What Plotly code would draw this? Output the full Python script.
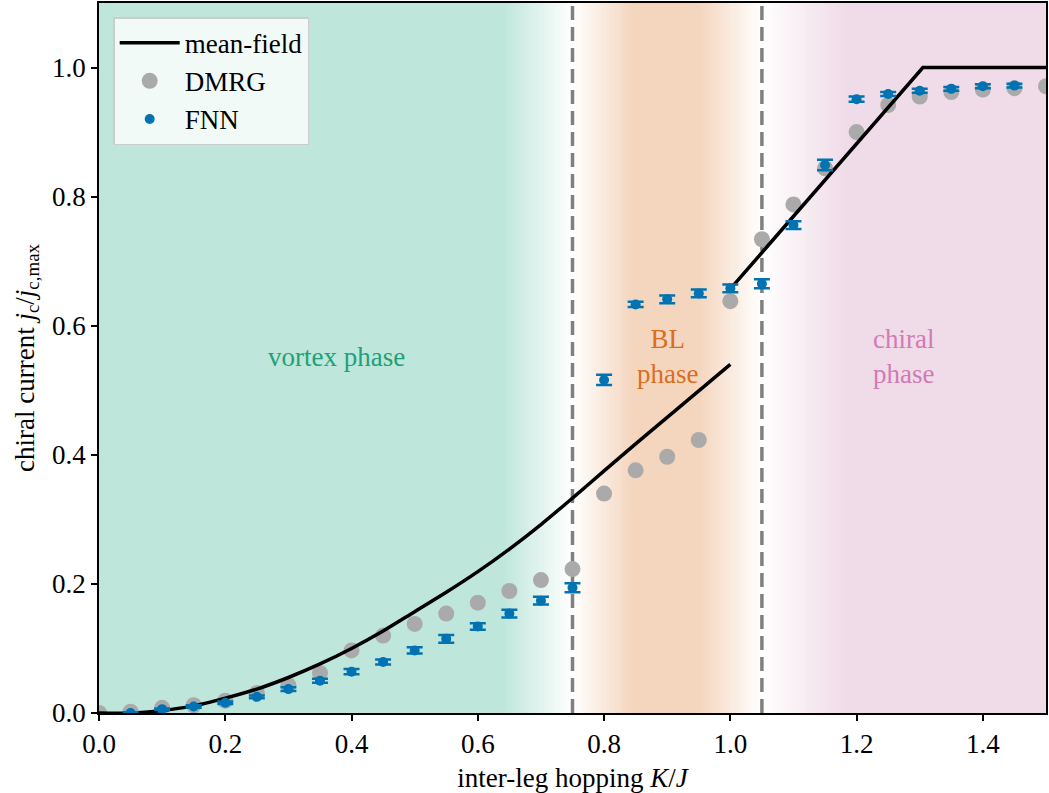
import numpy as np
import plotly.graph_objects as go

# ---------------- data ----------------
x_dmrg = [0.00, 0.05, 0.10, 0.15, 0.20, 0.25, 0.30, 0.35, 0.40, 0.45, 0.50,
          0.55, 0.60, 0.65, 0.70, 0.75, 0.80, 0.85, 0.90, 0.95, 1.00,
          1.05, 1.10, 1.15, 1.20, 1.25, 1.30, 1.35, 1.40, 1.45, 1.50]
y_dmrg = [0.000, 0.002, 0.008, 0.012, 0.019, 0.031, 0.043, 0.062, 0.097, 0.120, 0.138,
          0.154, 0.171, 0.189, 0.206, 0.223, 0.340, 0.376, 0.397, 0.423, 0.638,
          0.734, 0.788, 0.844, 0.900, 0.942, 0.955, 0.962, 0.966, 0.968, 0.971]

x_fnn = [0.05, 0.10, 0.15, 0.20, 0.25, 0.30, 0.35, 0.40, 0.45, 0.50,
         0.55, 0.60, 0.65, 0.70, 0.75, 0.80, 0.85, 0.90, 0.95, 1.00,
         1.05, 1.10, 1.15, 1.20, 1.25, 1.30, 1.35, 1.40, 1.45]
y_fnn = [0.000, 0.006, 0.010, 0.016, 0.025, 0.037, 0.050, 0.064, 0.079, 0.097,
         0.115, 0.134, 0.154, 0.174, 0.194, 0.516, 0.633, 0.641, 0.650, 0.658,
         0.665, 0.756, 0.849, 0.951, 0.959, 0.964, 0.967, 0.971, 0.972]
err_fnn = [0.001, 0.001, 0.002, 0.002, 0.002, 0.003, 0.003, 0.004, 0.004, 0.005,
           0.006, 0.005, 0.006, 0.006, 0.007, 0.008, 0.004, 0.006, 0.006, 0.006,
           0.007, 0.006, 0.008, 0.004, 0.003, 0.003, 0.003, 0.003, 0.003]

x_mf_low = [0.00, 0.05, 0.10, 0.15, 0.20, 0.25, 0.30, 0.35, 0.40, 0.45, 0.50,
            0.55, 0.60, 0.65, 0.70, 0.75, 0.80, 0.85, 0.90, 0.95, 1.00]
y_mf_low = [0.000, 0.000, 0.004, 0.011, 0.023, 0.037, 0.055, 0.076, 0.100, 0.127, 0.157,
            0.187, 0.219, 0.254, 0.292, 0.333, 0.375, 0.417, 0.458, 0.499, 0.540]
x_mf_high = [1.00, 1.305, 1.50]
y_mf_high = [0.657, 1.000, 1.000]

phase_boundaries = [0.75, 1.05]
phase_labels = ["vortex phase", "BL<br>phase", "chiral<br>phase"]
phase_label_x = [0.376, 0.90, 1.274]
phase_label_y = [0.552, 0.552, 0.552]
phase_text_colors = ["#22a078", "#dc6d1e", "#d07ab6"]

# ---------------- background gradient ----------------
green = np.array([191, 230, 219])
orange = np.array([244, 214, 190])
pink = np.array([240, 220, 232])
white = np.array([255, 255, 255])

N = 300
edges = np.linspace(0, 1.5, N + 1)
centers = 0.5 * (edges[:-1] + edges[1:])


def ramp(x, x0, x1):
    return np.clip((x - x0) / (x1 - x0), 0, 1)


a_g = 1 - ramp(centers, 0.64, 0.75)
a_o = ramp(centers, 0.75, 0.845) * (1 - ramp(centers, 0.95, 1.05))
a_p = ramp(centers, 1.05, 1.18)
cols = (white[None, :]
        + a_g[:, None] * (green - white)
        + a_o[:, None] * (orange - white)
        + a_p[:, None] * (pink - white))
cols = np.clip(np.round(cols), 0, 255).astype(int)
colorscale = [[i / (N - 1), "rgb(%d,%d,%d)" % tuple(c)] for i, c in enumerate(cols)]

font_family = "Liberation Serif, Times New Roman, DejaVu Serif, serif"

fig = go.Figure()
fig.add_trace(go.Heatmap(
    z=[list(range(N))], x=edges, y=[0, 1.1],
    colorscale=colorscale, zmin=0, zmax=N - 1, showscale=False,
    hoverinfo="skip", showlegend=False))

for xb in phase_boundaries:
    fig.add_trace(go.Scatter(
        x=[xb, xb], y=[0, 1.1], mode="lines",
        line=dict(color="#808080", width=3.5, dash="14px,7px"),
        showlegend=False, hoverinfo="skip"))

fig.add_trace(go.Scatter(
    x=x_dmrg, y=y_dmrg, mode="markers", name="DMRG",
    marker=dict(color="#aaaaaa", size=16), legendrank=2,
    legendgroup="b"))

fig.add_trace(go.Scatter(
    x=x_mf_low, y=y_mf_low, mode="lines", name="mean-field",
    line=dict(color="black", width=3.5, shape="spline", smoothing=0.8),
    legendrank=1, legendgroup="a"))
fig.add_trace(go.Scatter(
    x=x_mf_high, y=y_mf_high, mode="lines", name="mean-field",
    line=dict(color="black", width=3.5), showlegend=False, legendgroup="a"))

fig.add_trace(go.Scatter(
    x=x_fnn, y=y_fnn, mode="markers", name="FNN",
    marker=dict(color="#0173b2", size=10),
    error_y=dict(type="data", array=err_fnn, color="#0173b2", thickness=2.5, width=8),
    legendrank=3, legendgroup="c"))

for txt, xx, yy, cc in zip(phase_labels, phase_label_x, phase_label_y, phase_text_colors):
    fig.add_annotation(x=xx, y=yy, text=txt, showarrow=False, xref="x", yref="y",
                       font=dict(family=font_family, size=27, color=cc),
                       align="center")

xticks = [0.0, 0.2, 0.4, 0.6, 0.8, 1.0, 1.2, 1.4]
yticks = [0.0, 0.2, 0.4, 0.6, 0.8, 1.0]

axis_common = dict(showline=True, linecolor="black", linewidth=1.5, mirror=True,
                   ticks="outside", ticklen=6, tickwidth=1.5, tickcolor="black",
                   showgrid=False, zeroline=False,
                   tickfont=dict(family=font_family, size=27, color="black"))

fig.update_layout(
    width=1049, height=793,
    margin=dict(l=99, r=1, t=2, b=80),
    paper_bgcolor="white", plot_bgcolor="white",
    font=dict(family=font_family, size=27, color="black"),
    xaxis=dict(range=[0, 1.5], tickvals=xticks, ticktext=["%.1f" % v for v in xticks],
               title=dict(text="inter-leg hopping <i>K</i>/<i>J</i>", standoff=12,
                          font=dict(family=font_family, size=27)),
               **axis_common),
    yaxis=dict(range=[0, 1.1], tickvals=yticks, ticktext=["%.1f" % v for v in yticks],
               title=dict(text="chiral current <i>j</i><sub>c</sub>/<i>j</i><sub>c,max</sub>",
                          standoff=10, font=dict(family=font_family, size=27)),
               **axis_common),
    legend=dict(x=0.015, y=0.98, xanchor="left", yanchor="top",
                bgcolor="rgba(255,255,255,0.78)", bordercolor="#cccccc", borderwidth=1.5,
                font=dict(family=font_family, size=27), itemwidth=60,
                traceorder="normal", tracegroupgap=2),
    showlegend=True,
)

fig.write_html("out.html")
